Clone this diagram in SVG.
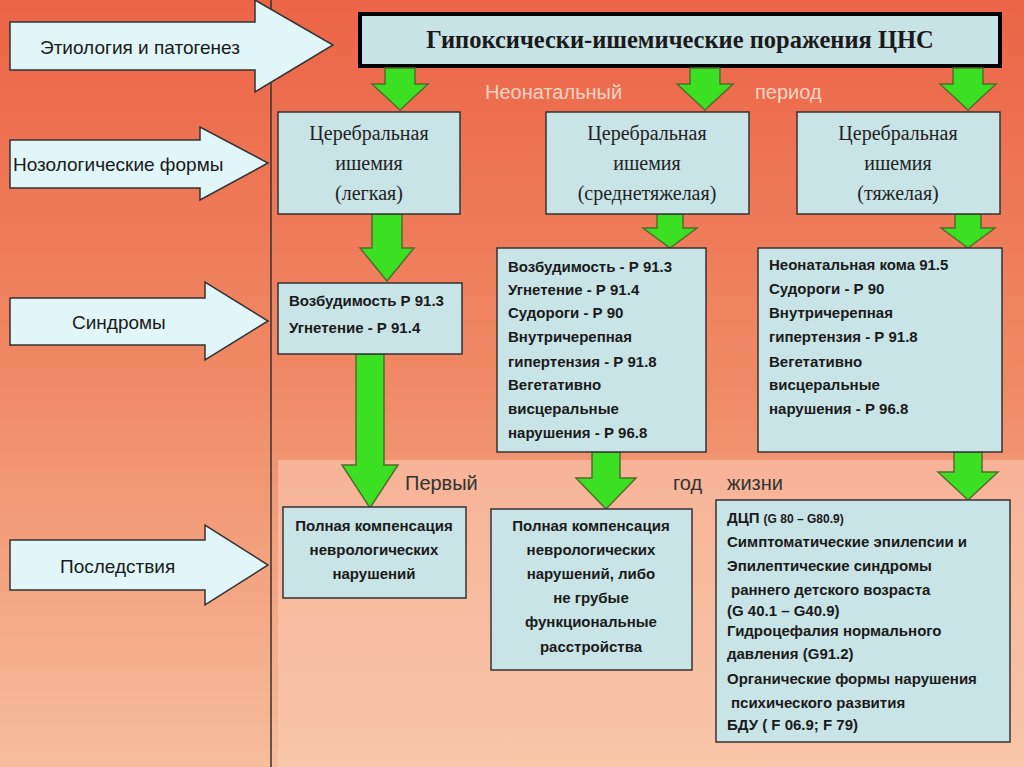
<svg xmlns="http://www.w3.org/2000/svg" width="1024" height="767" viewBox="0 0 1024 767">
<defs>
<linearGradient id="bg" x1="0" y1="0" x2="0" y2="1"><stop offset="0" stop-color="#ec6446"/><stop offset="0.5" stop-color="#f08a66"/><stop offset="1" stop-color="#f7bd9c"/></linearGradient>
<linearGradient id="pn" x1="0" y1="0" x2="0" y2="1"><stop offset="0" stop-color="#f7b397"/><stop offset="1" stop-color="#f8c6a8"/></linearGradient>
<style>
.la{fill:#e0f6f8;stroke:#333;stroke-width:1.5}
.ga{fill:#3be022;stroke:#556b2f;stroke-width:1.5}
.bx{fill:#c8e4e7;stroke:#333;stroke-width:1.5}
.ls{font-family:"Liberation Sans",Arial,sans-serif;font-size:19px;fill:#1a1a1a}
.sf{font-family:"Liberation Serif","Times New Roman",serif;font-size:20px;fill:#222;text-anchor:middle}
.b{font-family:"Liberation Sans",Arial,sans-serif;font-size:15px;font-weight:bold;fill:#1a1a1a}
.bc{text-anchor:middle}
.pd{font-family:"Liberation Sans",Arial,sans-serif;font-size:20px}
</style>
</defs>
<rect width="1024" height="767" fill="url(#bg)"/>
<rect x="278" y="460" width="746" height="307" fill="url(#pn)"/>
<line x1="271" y1="0" x2="271" y2="767" stroke="#333" stroke-width="1.5"/>
<g id="left-arrows">
<path class="la" d="M10,22H255V0L333,45L255,92V70H10Z"/>
<text class="ls" x="40" y="54">Этиология и патогенез</text>
<path class="la" d="M10,140H200V127L268,163L200,200V188H10Z"/>
<text class="ls" x="13" y="171">Нозологические формы</text>
<path class="la" d="M10,298H205V282L268,321L205,360V345H10Z"/>
<text class="ls" x="72" y="329">Синдромы</text>
<path class="la" d="M10,540H205V525L268,565L205,605V590H10Z"/>
<text class="ls" x="60" y="573">Последствия</text>
</g>
<g id="title">
<rect x="360" y="14" width="640" height="52" fill="#c7e3e6" stroke="#000" stroke-width="4"/>
<text x="680" y="48" font-family="Liberation Serif,serif" font-size="24.5" font-weight="bold" text-anchor="middle" fill="#1a1a1a">Гипоксически-ишемические поражения ЦНС</text>
</g>
<g id="connectors">
<path class="ga" d="M385,68H415V84H428L400,110L372,84H385Z"/>
<path class="ga" d="M690,68H720V84H733L705,110L677,84H690Z"/>
<path class="ga" d="M953,68H983V84H996L968,110L940,84H953Z"/>
<path class="ga" d="M372,214H402V248H414L387,281L360,248H372Z"/>
<path class="ga" d="M657,214H683V228H697L670,248L643,228H657Z"/>
<path class="ga" d="M955,214H981V228H995L968,248L941,228H955Z"/>
<path class="ga" d="M356,354H384V465H398L370,508L342,465H356Z"/>
<path class="ga" d="M592,452H620V478H636L606,509L576,478H592Z"/>
<path class="ga" d="M954,452H982V472H998L968,500L938,472H954Z"/>
</g>
<text class="pd" x="485" y="99" fill="#f8d3c4">Неонатальный</text>
<text class="pd" x="755" y="99" fill="#f8d3c4">период</text>
<text class="pd" x="405" y="490" fill="#333">Первый</text>
<text class="pd" x="673" y="490" fill="#333">год</text>
<text class="pd" x="727" y="490" fill="#333">жизни</text>
<g id="n1"><rect class="bx" x="278" y="112" width="182" height="102"/>
<text class="sf" x="369" y="140">Церебральная</text><text class="sf" x="369" y="170">ишемия</text><text class="sf" x="369" y="200">(легкая)</text></g>
<g id="n2"><rect class="bx" x="546" y="112" width="203" height="102"/>
<text class="sf" x="647" y="140">Церебральная</text><text class="sf" x="647" y="170">ишемия</text><text class="sf" x="647" y="200">(среднетяжелая)</text></g>
<g id="n3"><rect class="bx" x="797" y="112" width="203" height="102"/>
<text class="sf" x="898" y="140">Церебральная</text><text class="sf" x="898" y="170">ишемия</text><text class="sf" x="898" y="200">(тяжелая)</text></g>
<g id="s1"><rect class="bx" x="278" y="283" width="184" height="71"/>
<text class="b" x="289" y="306">Возбудимость Р 91.3</text><text class="b" x="289" y="333">Угнетение - Р 91.4</text></g>
<g id="s2"><rect class="bx" x="497" y="248" width="209" height="204"/>
<text class="b" x="508" y="272">Возбудимость - Р 91.3</text><text class="b" x="508" y="295">Угнетение - Р 91.4</text><text class="b" x="508" y="318">Судороги - Р 90</text><text class="b" x="508" y="342">Внутричерепная</text><text class="b" x="508" y="367">гипертензия - Р 91.8</text><text class="b" x="508" y="390">Вегетативно</text><text class="b" x="508" y="414">висцеральные</text><text class="b" x="508" y="438">нарушения - Р 96.8</text></g>
<g id="s3"><rect class="bx" x="758" y="248" width="244" height="204"/>
<text class="b" x="769" y="270">Неонатальная кома 91.5</text><text class="b" x="769" y="294">Судороги - Р 90</text><text class="b" x="769" y="318">Внутричерепная</text><text class="b" x="769" y="342">гипертензия - Р 91.8</text><text class="b" x="769" y="367">Вегетативно</text><text class="b" x="769" y="390">висцеральные</text><text class="b" x="769" y="414">нарушения - Р 96.8</text></g>
<g id="c1"><rect class="bx" x="283" y="507" width="183" height="91"/>
<text class="b bc" x="374" y="531">Полная компенсация</text><text class="b bc" x="374" y="555">неврологических</text><text class="b bc" x="374" y="579">нарушений</text></g>
<g id="c2"><rect class="bx" x="491" y="509" width="201" height="161"/>
<text class="b bc" x="591" y="531">Полная компенсация</text><text class="b bc" x="591" y="555">неврологических</text><text class="b bc" x="591" y="579">нарушений, либо</text><text class="b bc" x="591" y="603">не грубые</text><text class="b bc" x="591" y="627">функциональные</text><text class="b bc" x="591" y="652">расстройства</text></g>
<g id="c3"><rect class="bx" x="716" y="500" width="294" height="242"/>
<text class="b" x="727" y="523">ДЦП <tspan font-size="12">(G 80 – G80.9)</tspan></text>
<text class="b" x="727" y="547">Симптоматические эпилепсии и</text>
<text class="b" x="727" y="571">Эпилептические синдромы</text>
<text class="b" x="731" y="595">раннего детского возраста</text>
<text class="b" x="727" y="616" font-size="12">(G 40.1 – G40.9)</text>
<text class="b" x="727" y="636">Гидроцефалия нормального</text>
<text class="b" x="727" y="659">давления (G91.2)</text>
<text class="b" x="727" y="684">Органические формы нарушения</text>
<text class="b" x="731" y="708">психического развития</text>
<text class="b" x="727" y="730" font-size="12">БДУ ( F 06.9; F 79)</text></g>
</svg>
